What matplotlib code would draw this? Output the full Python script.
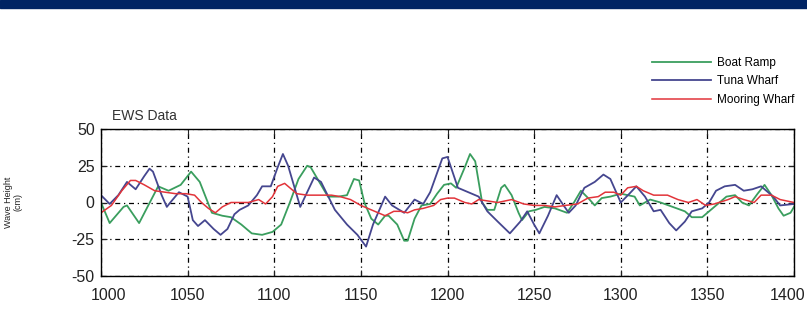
import matplotlib
matplotlib.use("Agg")
import matplotlib.pyplot as plt
from matplotlib.patches import Rectangle
from matplotlib.transforms import ScaledTranslation

# Boat Ramp (green)
boat_x = [1000, 1005, 1013, 1015, 1022, 1033, 1039, 1046, 1052, 1057, 1064, 1070,
          1075, 1081, 1087, 1093, 1099, 1104, 1109, 1114, 1119, 1121, 1126, 1131,
          1137, 1142, 1146, 1149, 1152, 1156, 1160, 1164, 1166, 1171, 1175, 1177,
          1181, 1185, 1190, 1194, 1198, 1202, 1205, 1210, 1213, 1216, 1218, 1220,
          1223, 1227, 1231, 1233, 1237, 1241, 1243, 1247, 1251, 1256, 1262, 1269,
          1273, 1277, 1282, 1285, 1289, 1294, 1300, 1308, 1311, 1317, 1323, 1330,
          1337, 1341, 1347, 1351, 1356, 1361, 1366, 1370, 1374, 1379, 1383, 1387,
          1391, 1394, 1398, 1400]
boat_y = [0, -14, -3, -2, -14, 11, 8, 12, 21, 14, -7, -9,
          -10, -15, -21, -22, -20, -15, 0, 16, 25, 24, 14, 4,
          4, 5, 16, 15, 0, -11, -15, -9, -9, -15, -26, -26,
          -11, -2, -1, 6, 12, 13, 10, 24, 33, 28, 14, 0,
          -5, -5, 10, 12, 5, -7, -12, -6, -5, -3, -4, -7,
          0, 8, 2, -2, 3, 4, 6, 4, -2, 2, 0, -3,
          -6, -10, -10, -6, -1, 4, 5, 0, -2, 6, 12, 5,
          -4, -9, -7, -3]

# Tuna Wharf (blue)
tuna_x = [1000, 1005, 1010, 1015, 1020, 1025, 1028, 1030, 1035, 1038, 1040, 1045,
          1050, 1053, 1056, 1060, 1065, 1069, 1073, 1077, 1080, 1085, 1090, 1093,
          1098, 1102, 1105, 1108, 1115, 1123, 1127, 1135, 1142, 1148, 1153, 1157,
          1164, 1168, 1175, 1181, 1186, 1190, 1197, 1200, 1206, 1212, 1218, 1223,
          1229, 1236, 1242, 1246, 1250, 1253, 1258, 1263, 1267, 1270, 1274, 1279,
          1285, 1290, 1294, 1300, 1305, 1309, 1314, 1319, 1323, 1328, 1332, 1337,
          1341, 1347, 1351, 1355, 1360, 1366, 1371, 1376, 1381, 1388, 1392, 1400]
tuna_y = [5, -1, 5, 14, 9, 18, 23, 21, 5, -3, 0, 7,
          4, -12, -16, -12, -18, -22, -18, -8, -5, -2, 5, 11,
          11, 24, 33, 25, -3, 17, 14, -5, -15, -22, -30, -15,
          4, -2, -7, 2, -1, 7, 30, 31, 10, 7, 4, -6,
          -13, -21, -13, -6, -15, -21, -9, 5, -2, -7, -2, 10,
          14, 19, 16, 0, 6, 11, 4, -6, -5, -14, -19, -13,
          -6, -4, 0, 8, 11, 12, 8, 9, 11, 4, -2, -1]

# Mooring Wharf (red)
moor_x = [1000, 1006, 1012, 1017, 1020, 1025, 1031, 1037, 1043, 1049, 1054, 1058,
          1062, 1066, 1070, 1075, 1085, 1091, 1095, 1099, 1102, 1106, 1109, 1113,
          1119, 1127, 1133, 1138, 1144, 1150, 1156, 1160, 1164, 1169, 1173, 1177,
          1181, 1186, 1192, 1196, 1200, 1204, 1210, 1214, 1218, 1229, 1237, 1244,
          1250, 1256, 1262, 1268, 1275, 1281, 1287, 1291, 1296, 1300, 1304, 1309,
          1313, 1319, 1327, 1333, 1339, 1344, 1349, 1354, 1362, 1366, 1371, 1377,
          1381, 1387, 1392, 1400]
moor_y = [-7, -2, 8, 15, 15, 12, 8, 7, 6, 6, 5, 0,
          -4, -7, -3, 0, 0, 2, -1, 4, 11, 13, 10, 6,
          5, 5, 5, 4, 2, -2, -5, -7, -9, -6, -6, -7,
          -5, -4, -2, 2, 3, 3, 0, -1, 2, 0, 2, -1,
          -2, -2, -3, -2, -1, 3, 4, 7, 7, 5, 10, 11,
          8, 5, 5, 2, 0, 2, -2, -1, 2, 4, 2, 0,
          5, 5, 2, 0]

x_ticks = [1000, 1050, 1100, 1150, 1200, 1250, 1300, 1350, 1400]
y_ticks = [-50, -25, 0, 25, 50]

plt.rcParams['font.family'] = ['Liberation Sans', 'DejaVu Sans']
plt.rcParams['axes.unicode_minus'] = False

fig = plt.figure(figsize=(8.07, 3.22), dpi=100)
fig.patches.append(Rectangle((0, 1 - 8 / 322), 1, 8 / 322, transform=fig.transFigure,
                             color='#002463', zorder=0))

ax = fig.add_axes([101 / 807, 1 - 276 / 322, (794 - 101) / 807, (276 - 129) / 322])

ax.plot(boat_x, boat_y, color='#3a9e5e', lw=1.3, label='Boat Ramp')
ax.plot(tuna_x, tuna_y, color='#45468f', lw=1.3, label='Tuna Wharf')
ax.plot(moor_x, moor_y, color='#e2343a', lw=1.1, label='Mooring Wharf')

ax.set_xlim(1000, 1400)
ax.set_ylim(-50, 50)
ax.set_xticks(x_ticks)
ax.set_yticks(y_ticks)
ax.tick_params(direction='in', top=True, right=True, length=4, labelsize=11.5,
               colors='#222222')
ax.tick_params(axis='x', pad=9)
ax.tick_params(axis='y', pad=4.5)
ax.grid(True, color='black', linestyle=(0, (4, 3, 1, 3)), linewidth=0.9)
for s in ax.spines.values():
    s.set_linewidth(1.0)

# end labels nudged inwards like the original
xl = ax.get_xticklabels()
xl[0].set_transform(xl[0].get_transform() + ScaledTranslation(7 / 100, 0, fig.dpi_scale_trans))
xl[-1].set_transform(xl[-1].get_transform() + ScaledTranslation(-6 / 100, 0, fig.dpi_scale_trans))

ax.text(0.016, 1.04, 'EWS Data', transform=ax.transAxes, fontsize=10, color='#333333',
        ha='left', va='bottom')
fig.text(13 / 807, 1 - 202 / 322, 'Wave Height\n(cm)', rotation=90, fontsize=6.5,
         ha='center', va='center', color='#222222', linespacing=1.1)

ax.legend(loc='upper left', bbox_to_anchor=(652 / 807, 1 - 57 / 322),
          bbox_transform=fig.transFigure, frameon=False, fontsize=8.5,
          handlelength=5.0, handletextpad=0.5, labelspacing=0.55, borderpad=0,
          borderaxespad=0)

fig.savefig('out.png', dpi=100)
